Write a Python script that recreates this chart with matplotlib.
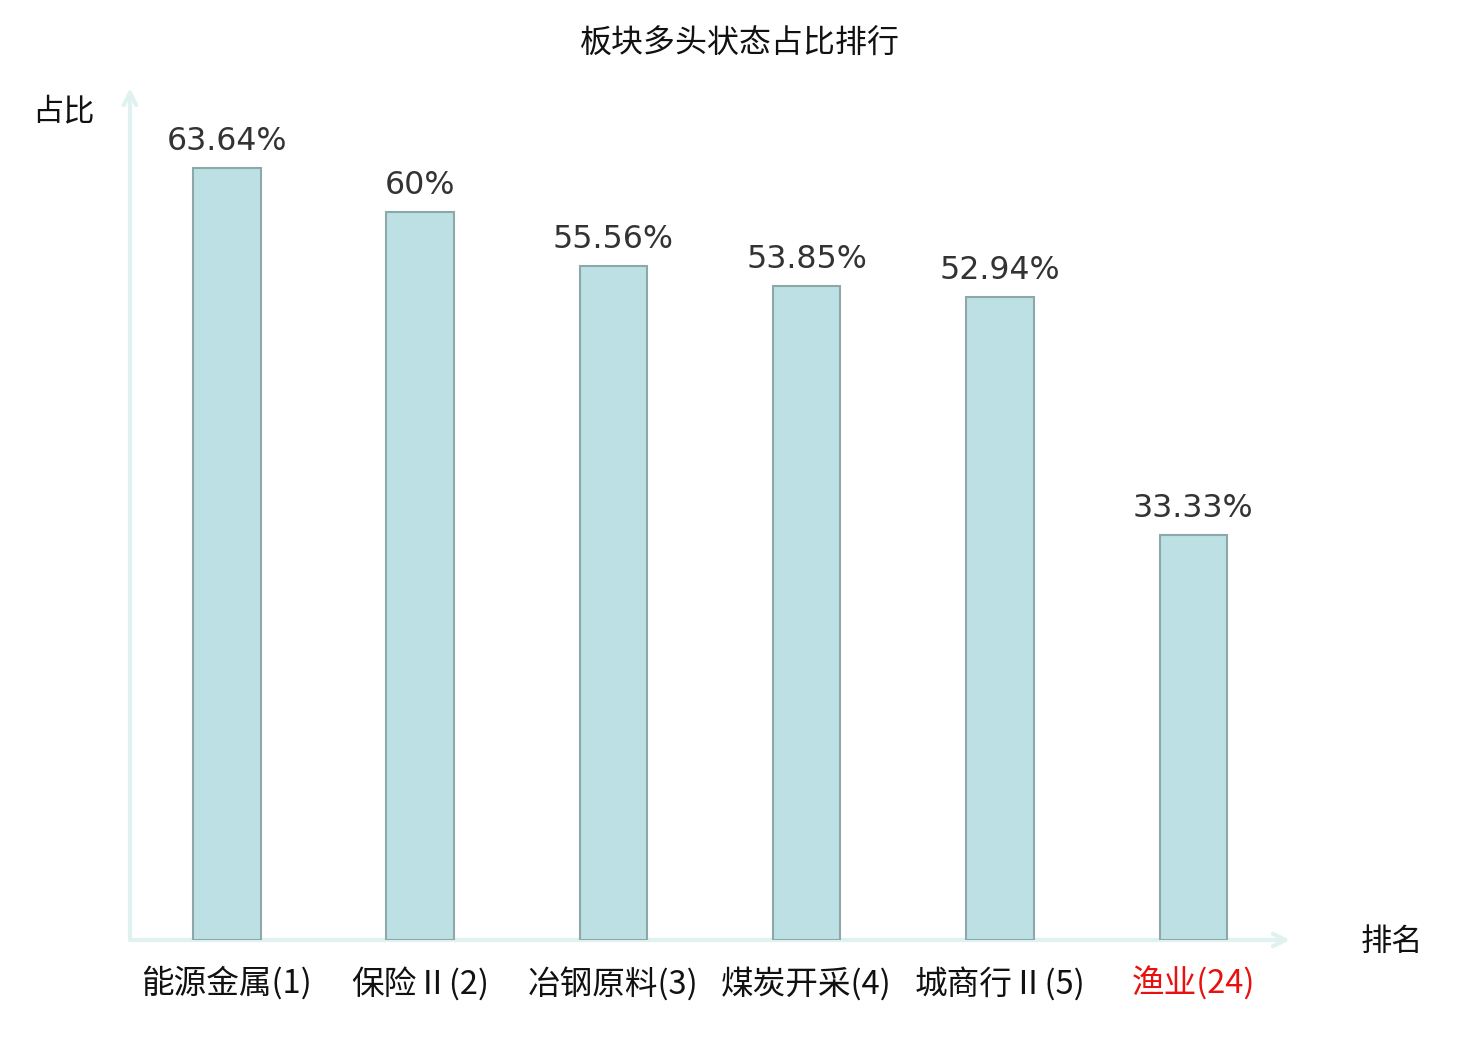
import matplotlib
matplotlib.use("Agg")
import matplotlib.pyplot as plt

# === Daten ===
categories = ["能源金属(1)", "保险Ⅱ(2)", "冶钢原料(3)", "煤炭开采(4)", "城商行Ⅱ(5)", "渔业(24)"]
values = [63.64, 60, 55.56, 53.85, 52.94, 33.33]
value_labels = ["63.64%", "60%", "55.56%", "53.85%", "52.94%", "33.33%"]
label_colors = ["#111111", "#111111", "#111111", "#111111", "#111111", "#e8110f"]

cjk = ["Noto Sans CJK SC", "DejaVu Sans"]
axis_color = "#dff2f0"

# === Plot ===
fig = plt.figure(figsize=(14.8, 10.4), dpi=100)
ax = fig.add_axes([130 / 1480, 100 / 1040, 1160 / 1480, 852 / 1040])

x = list(range(len(categories)))
ax.bar(x, values, width=0.35, color="#bce0e3", edgecolor="#8ea8a9", linewidth=1.5, zorder=3)

for xi, v, lab in zip(x, values, value_labels):
    ax.annotate(lab, (xi, v), xytext=(0, 8), textcoords="offset points",
                ha="center", va="bottom", fontsize=22.8, color="#333333",
                family="DejaVu Sans")

ax.set_xlim(-0.5, 5.5)
ax.set_ylim(0, 70.2)

for s in ax.spines.values():
    s.set_visible(False)
ax.set_yticks([])
ax.set_xticks(x)
ax.set_xticklabels(categories, family=cjk, fontsize=23.5)
for t, c in zip(ax.get_xticklabels(), label_colors):
    t.set_color(c)
ax.tick_params(axis="x", length=0, pad=19)

# Achsen mit Pfeilen
ax.annotate("", xy=(1.0, 0), xytext=(0, 0), xycoords="axes fraction",
            arrowprops=dict(arrowstyle="->,head_length=0.9,head_width=0.45",
                            color=axis_color, lw=3, shrinkA=0, shrinkB=0),
            annotation_clip=False, zorder=2)
ax.annotate("", xy=(0, 1.0), xytext=(0, 0), xycoords="axes fraction",
            arrowprops=dict(arrowstyle="->,head_length=0.9,head_width=0.45",
                            color=axis_color, lw=3, shrinkA=0, shrinkB=0),
            annotation_clip=False, zorder=2)

fig.text(63 / 1480, 1 - 111 / 1040, "占比", family=cjk, fontsize=22.5,
         ha="center", va="center", color="#111111")
fig.text(1392 / 1480, 1 - 942 / 1040, "排名", family=cjk, fontsize=22.5,
         ha="center", va="center", color="#111111")
fig.text(740 / 1480, 1 - 44 / 1040, "板块多头状态占比排行", family=cjk, fontsize=23,
         ha="center", va="center", color="#111111")

fig.savefig("out.png", dpi=100)
plt.close(fig)
